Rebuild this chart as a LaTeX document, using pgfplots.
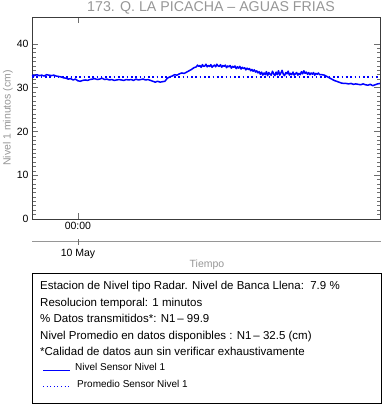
\documentclass[border=0pt]{standalone}
\usepackage{pgfplots}
\pgfplotsset{compat=1.18}
\usepackage{fontspec}
\setmainfont{Liberation Sans}
\definecolor{axgray}{RGB}{60,60,60}
\definecolor{labgray}{RGB}{150,150,150}
\definecolor{tickgray}{RGB}{110,110,110}
\begin{document}
\begin{tikzpicture}[x=1pt,y=1pt]
\useasboundingbox (0,0) rectangle (382,404);
\begin{axis}[
  at={(32pt,185pt)}, anchor=south west,
  scale only axis, width=348pt, height=202pt,
  xmin=-190, xmax=1250, ymin=0, ymax=46.2,
  xtick={0}, xticklabels={00:00},
  ytick={0,10,20,30,40}, minor y tick num=9,
  tick align=inside, major tick length=6pt, minor tick length=3.5pt,
  ticklabel pos=left,
  axis line style={axgray, line width=0.8pt},
  every tick/.style={tickgray, line width=0.8pt},
  tick label style={font=\fontsize{10.5}{12}\selectfont, text=black},
  /pgf/number format/assume math mode=true,
  clip=false,
]
\addplot[blue, line width=1.5pt, line join=round] coordinates {
(-190,32.9)(-180,32.8)(-170,33.0)(-160,32.8)(-150,32.9)(-140,32.7)(-130,33.0)(-120,32.9)(-110,32.8)(-100,32.9)
(-90,32.7)(-80,32.6)(-70,32.5)(-60,32.3)(-50,32.2)(-40,32.0)(-30,32.1)(-20,31.8)(-10,32.0)(0,31.6)
(10,31.5)(20,31.7)(30,31.8)(40,31.7)(50,31.9)(60,32.0)(70,32.1)(80,31.9)(90,32.0)(100,32.2)
(110,31.9)(120,32.0)(130,31.8)(140,31.9)(150,31.7)(160,31.8)(170,31.9)(180,31.8)(190,31.7)(200,31.9)
(210,31.8)(220,31.9)(230,31.7)(240,32.0)(250,31.8)(260,31.9)(270,32.0)(280,31.8)(290,31.9)(300,31.7)
(310,31.5)(320,31.3)(330,31.5)(340,31.3)(350,31.4)(360,31.5)(370,32.2)(380,32.5)(390,32.7)(400,33.0)
(410,32.9)(420,33.2)(430,33.4)(440,33.3)(450,33.6)(460,33.9)(470,34.2)(480,34.6)
(490,34.8)(495,35.2)(500,34.9)(505,35.1)(510,34.7)(515,35.3)(520,34.9)(525,35.0)(530,35.4)(535,34.8)
(540,35.1)(545,34.9)(550,35.3)(555,34.7)(560,35.0)(565,35.2)(570,34.8)(575,35.4)(580,35.0)(585,34.9)
(590,35.3)(595,34.7)(600,35.1)(605,34.9)(610,35.2)(615,34.6)(620,35.0)(625,34.8)(630,35.1)(635,34.5)
(640,34.9)(645,34.7)(650,35.0)(655,34.4)(660,34.8)(665,34.5)(670,34.9)(675,34.3)(680,34.7)(685,34.4)
(690,34.6)(695,34.1)(700,34.5)(705,34.2)(710,34.4)(715,33.9)(720,34.2)(725,33.8)(730,34.1)(735,33.6)
(740,33.9)(745,33.4)(750,33.7)(755,33.1)(760,33.6)(765,32.9)(770,33.4)(775,33.0)(780,33.7)(785,32.8)
(790,33.5)(795,33.1)(800,32.9)(805,33.8)(810,33.2)(815,32.8)(820,33.6)(825,33.0)(830,33.9)(835,32.9)
(840,33.4)(845,34.0)(850,33.1)(855,32.8)(860,33.5)(865,33.2)(870,33.8)(875,32.9)(880,33.3)(885,33.0)
(890,33.6)(895,32.9)(900,33.2)(905,33.5)(910,32.9)(915,33.3)(920,33.0)(925,33.7)(930,33.2)(935,33.9)
(940,33.3)(945,33.6)(950,33.1)(955,33.5)(960,33.0)(965,33.4)(970,33.1)(975,33.5)(980,32.9)(985,33.3)
(990,33.1)(995,33.4)(1000,33.0)
(1010,33.0)(1020,32.9)(1030,32.6)(1040,32.3)(1050,32.0)(1060,31.7)(1070,31.5)(1080,31.3)(1090,31.1)(1100,31.0)
(1110,31.0)(1120,30.9)(1130,31.0)(1140,30.8)(1150,30.9)(1160,30.8)(1170,30.7)(1180,30.9)(1190,30.7)(1200,30.6)
(1210,30.8)(1220,30.5)(1230,30.7)(1240,30.9)(1250,31.0)
};
\addplot[blue, line width=1.6pt, dash pattern=on 1.6pt off 2.7pt] coordinates {(-190,32.5)(1250,32.5)};
% secondary date axis
\draw[labgray, line width=1pt] (rel axis cs:0,-0.113) -- (rel axis cs:1.003,-0.113);
\draw[tickgray, line width=0.8pt] ([yshift=-3pt]axis cs:0,-5.2) -- ([yshift=3pt]axis cs:0,-5.2);
\end{axis}
\node[text=labgray, font=\fontsize{14.2}{16}\selectfont] at (211,396) {173. Q. LA PICACHA – AGUAS FRIAS};
\node[text=labgray, font=\fontsize{10.5}{12}\selectfont, rotate=90] at (8,286) {Nivel 1 minutos (cm)};
\node[font=\fontsize{10.5}{12}\selectfont] at (78,150) {10 May};
\node[text=labgray, font=\fontsize{10.5}{12}\selectfont] at (207,139) {Tiempo};
\draw[black, line width=0.9pt] (32,1) rectangle (381,131);
\begin{scope}[every node/.style={anchor=base west, inner sep=0pt, font=\fontsize{11.5}{13}\selectfont}]
\node at (40,114) {Estacion de Nivel tipo Radar. Nivel de Banca Llena:\ \ 7.9 \%};
\node at (40,97.5) {Resolucion temporal: 1 minutos};
\node at (40,81) {\% Datos transmitidos*: N1\,– 99.9};
\node at (40,64.5) {Nivel Promedio en datos disponibles : N1\,– 32.5 (cm)};
\node at (40,48) {*Calidad de datos aun sin verificar exhaustivamente};
\node[font=\fontsize{10}{12}\selectfont] at (75,33) {Nivel Sensor Nivel 1};
\node[font=\fontsize{10}{12}\selectfont] at (77,16.5) {Promedio Sensor Nivel 1};
\end{scope}
\draw[blue, line width=0.9pt] (43,34) -- (70,34);
\draw[blue, line width=0.9pt, dash pattern=on 1pt off 2.6pt] (43,17.5) -- (70,17.5);
\end{tikzpicture}
\end{document}
